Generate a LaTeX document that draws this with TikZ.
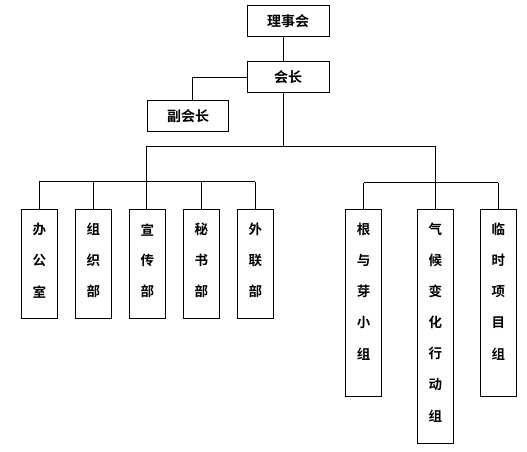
\documentclass[tikz,border=0pt]{standalone}
\usepackage{fontspec}
\newfontfamily\cjk{Noto Sans CJK SC Bold}
\usetikzlibrary{calc}
\begin{document}
\begin{tikzpicture}[x=1pt,y=-1pt,
  box/.style={draw,line width=1pt,inner sep=0pt,minimum width=36pt,minimum height=109pt},
  hbox/.style={draw,line width=1pt,inner sep=0pt,minimum width=82pt,minimum height=31pt,font=\cjk\fontsize{14}{16}\selectfont},
  ch/.style={inner sep=0pt,font=\cjk\fontsize{13.5}{15}\selectfont},
  ln/.style={line width=1pt}]
\useasboundingbox (0,0) rectangle (527,452);
\node[hbox] (lsh) at (288,21.5) {理事会};
\node[hbox] (hz) at (288,77) {会长};
\node[hbox,minimum width=81pt] (fhz) at (188,116) {副会长};
\coordinate (spine) at (283,0);
\coordinate (bar) at (0,146);
\coordinate (lbar) at (0,181.5);
\coordinate (rbar) at (0,182.5);
% boxes
\node[box] (b1) at (39.3,263.7) {};
\node[box] (b2) at (93.3,263.7) {};
\node[box] (b3) at (147.3,263.7) {};
\node[box] (b4) at (201.3,263.7) {};
\node[box] (b5) at (255.3,263.7) {};
\node[box,minimum height=187.4pt] (r1) at (363.5,303) {};
\node[box,minimum height=234pt] (r2) at (435.3,326.3) {};
\node[box,minimum height=187.4pt] (r3) at (498.3,303) {};
% texts
\foreach \n/\t in {b1/{办,公,室},b2/{组,织,部},b3/{宣,传,部},b4/{秘,书,部},b5/{外,联,部},r1/{根,与,芽,小,组},r2/{气,候,变,化,行,动,组},r3/{临,时,项,目,组}}{
  \foreach \c [count=\i] in \t {
    \node[ch] (\n-\i) at ($(\n.north)+(0,21+31*\i-31)$) {\c};
  }
}
% connectors
\draw[ln] (lsh.south -| spine) -- (hz.north -| spine);
\draw[ln] (hz.west) -- (hz.west -| 192.3,0) -- (fhz.north -| 192.3,0);
\draw[ln] (hz.south -| spine) -- (bar -| spine);
\draw[ln] (bar -| 146,0) -- (bar -| r2.north);
\draw[ln] (bar -| 146,0) -- (b3.north -| 146,0);
\draw[ln] (lbar -| b1.north) -- (lbar -| b5.north);
\draw[ln] (lbar -| b1.north) -- (b1.north);
\draw[ln] (lbar -| b2.north) -- (b2.north);
\draw[ln] (lbar -| b4.north) -- (b4.north);
\draw[ln] (lbar -| b5.north) -- (b5.north);
\draw[ln] (bar -| r2.north) -- (r2.north);
\draw[ln] (rbar -| r1.north) -- (rbar -| r3.north);
\draw[ln] (rbar -| r1.north) -- (r1.north);
\draw[ln] (rbar -| r3.north) -- (r3.north);
\end{tikzpicture}
\end{document}
